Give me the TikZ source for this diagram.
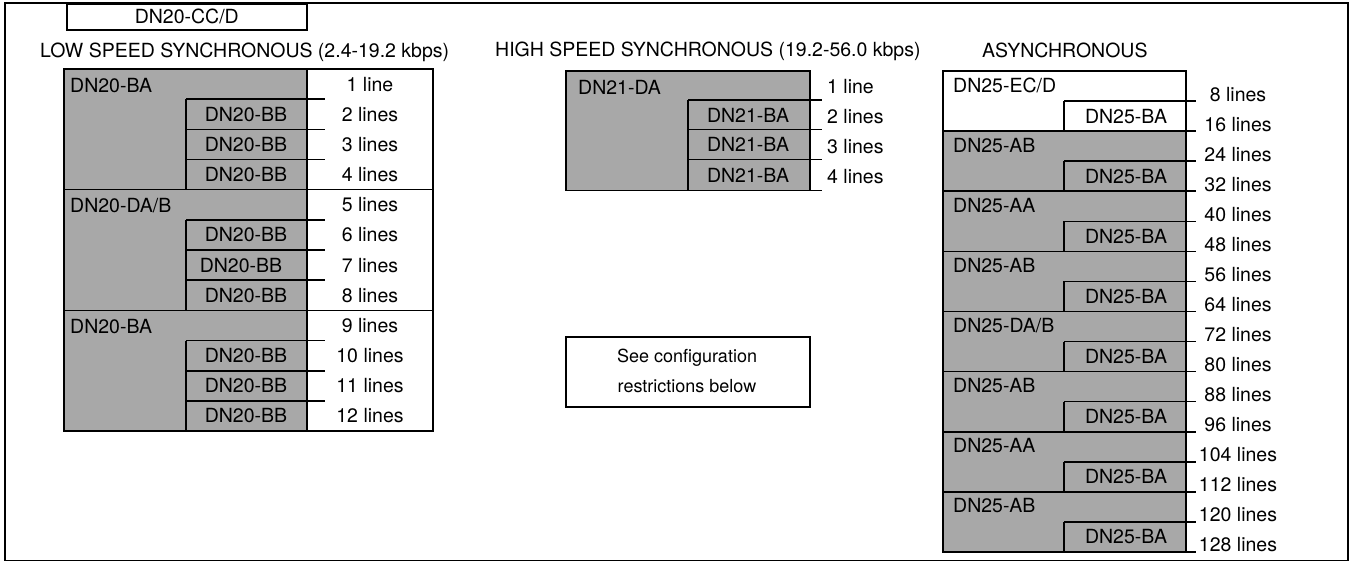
\documentclass[tikz,border=0pt]{standalone}
\usepackage{fontspec}
\setmainfont{TeX Gyre Heros}
\begin{document}
\begin{tikzpicture}[x=1pt,y=-1pt,
  every node/.style={inner sep=0pt, font=\fontsize{19.5}{20}\selectfont, text height=14pt, text depth=0pt},
  shade/.style={fill=black!34},
  ln/.style={line width=1.6pt},
  frame/.style={line width=2.4pt},
  small/.style={font=\fontsize{18}{20}\selectfont}]
\useasboundingbox (0,0) rectangle (1351,560);
% outer frame
\draw[frame] (5,3) rectangle (1348,561);
\node[draw, ln, minimum width=240pt, minimum height=26pt, anchor=north west] (cc) at (66,3) {DN20-CC/D};

% headings
\node[anchor=west] (hls) at (40,50) {LOW SPEED SYNCHRONOUS (2.4-19.2 kbps)};
\node[anchor=west] (hhs) at (495,49) {HIGH SPEED SYNCHRONOUS (19.2-56.0 kbps)};
\node[anchor=west] (has) at (982,50) {ASYNCHRONOUS};

% ---------- low speed table ----------
\fill[shade] (64,69) rectangle (307,431);
\draw[ln] (64,69) rectangle (433,431);
\draw[ln] (307,69) -- (307,431);
\foreach \g in {4,8} \draw[ln] (64,{69+30.17*\g}) -- (433,{69+30.17*\g});
\foreach \g in {0,4,8} {
  \draw[ln] (186,{69+30.17*(\g+1)}) -- (186,{69+30.17*(\g+4)});
  \foreach \k in {1,2,3} \draw[ln] (186,{69+30.17*(\g+\k)}) -- (325,{69+30.17*(\g+\k)});
}
\foreach \i in {1,...,12} {
  \node (ll\i) at (370,{69+30.17*(\i-1)+15.08}) {\i\ line\ifnum\i>1 s\fi};
}
\foreach \i in {2,3,4,6,8,10,11,12} {
  \node (bb\i) at (246,{69+30.17*(\i-1)+15.08}) {DN20-BB};
}
\node (bb7) at (241,{69+30.17*6+15.08}) {DN20-BB};
\node[anchor=west] (ga1) at (70,85) {DN20-BA};
\node[anchor=west] (ga2) at (70,205.5) {DN20-DA/B};
\node[anchor=west] (ga3) at (70,326) {DN20-BA};

% ---------- high speed table ----------
\fill[shade] (566,71) rectangle (810,190.5);
\draw[ln] (566,71) rectangle (810,190.5);
\draw[ln] (688,100) -- (688,190.5);
\foreach \y in {100,129.5,159.5,190.5} \draw[ln] (688,\y) -- (822,\y);
\node[anchor=west] (da) at (578,87) {DN21-DA};
\node (hb2) at (748,115) {DN21-BA};
\node (hb3) at (748,144.5) {DN21-BA};
\node (hb4) at (748,175) {DN21-BA};
\node[anchor=west] (hl1) at (827,86) {1 line};
\node[anchor=west] (hl2) at (827,116) {2 lines};
\node[anchor=west] (hl3) at (827,146) {3 lines};
\node[anchor=west] (hl4) at (827,176) {4 lines};

% note box
\node[draw, ln, minimum width=244pt, minimum height=70pt, anchor=north west] (see) at (565,336) {};
\node[small] (see1) at (687,355) {See configuration};
\node[small] (see2) at (687,385) {restrictions below};

% ---------- asynchronous table ----------
\fill[shade] (943,{71+30.06*2}) rectangle (1186,{71+30.06*16});
\draw[ln] (943,71) rectangle (1186,{71+30.06*16});
\foreach \k in {0,...,7} {
  \draw[ln] (1064,{71+30.06*(2*\k+1)}) -- (1064,{71+30.06*(2*\k+2)});
  \draw[ln] (1064,{71+30.06*(2*\k+1)}) -- (1196,{71+30.06*(2*\k+1)});
  \draw[ln] (943,{71+30.06*(2*\k+2)}) -- (1196,{71+30.06*(2*\k+2)});
  \node (ab\k) at (1126,{71+30.06*(2*\k+1)+15}) {DN25-BA};
}
\foreach \j in {1,...,16} {
  \pgfmathtruncatemacro\nl{8*\j}
  \node (al\j) at (1238,{71+30.06*\j-7}) {\nl\ lines};
}
\node[anchor=west] (ag0) at (953,{71+30.06*0+14}) {DN25-EC/D};
\node[anchor=west] (ag1) at (953,{71+30.06*2+14}) {DN25-AB};
\node[anchor=west] (ag2) at (953,{71+30.06*4+14}) {DN25-AA};
\node[anchor=west] (ag3) at (953,{71+30.06*6+14}) {DN25-AB};
\node[anchor=west] (ag4) at (953,{71+30.06*8+14}) {DN25-DA/B};
\node[anchor=west] (ag5) at (953,{71+30.06*10+14}) {DN25-AB};
\node[anchor=west] (ag6) at (953,{71+30.06*12+14}) {DN25-AA};
\node[anchor=west] (ag7) at (953,{71+30.06*14+14}) {DN25-AB};
\end{tikzpicture}
\end{document}
